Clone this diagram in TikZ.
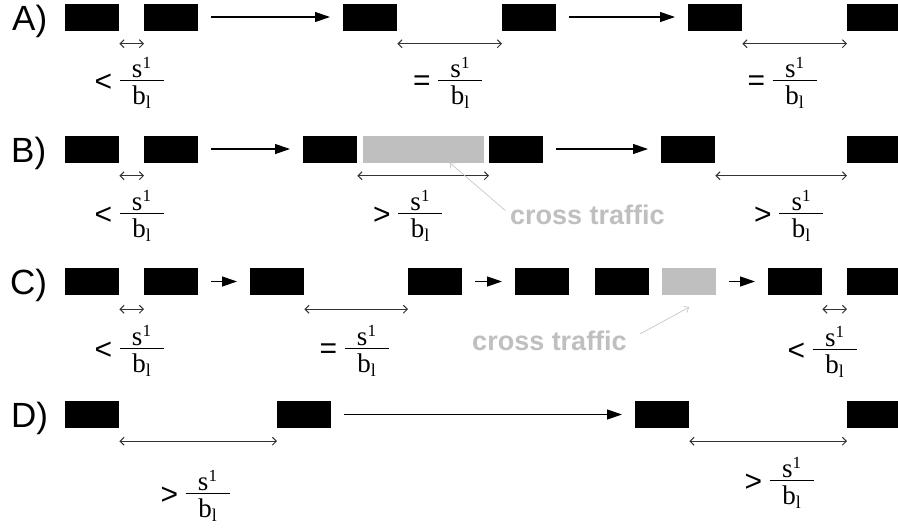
\documentclass[tikz,border=0pt]{standalone}
\usepackage{fontspec}
\setmainfont{Liberation Serif}
\newfontfamily\lsans{Liberation Sans}
\usetikzlibrary{arrows.meta}
\tikzset{
  blk/.style={fill=black, draw=none, inner sep=0pt, minimum width=54pt, minimum height=27pt, anchor=west},
  gblk/.style={fill=black!25, draw=none, inner sep=0pt, minimum height=27pt, anchor=west},
  flow/.style={line width=1.2pt, -{Triangle[length=15pt,width=10pt]}, shorten <=13pt, shorten >=13pt},
  dimarr/.style={line width=1pt, black!80, {Straight Barb[length=4pt,width=8pt]}-{Straight Barb[length=4pt,width=8pt]}},
  fracline/.style={line width=1pt},
  numer/.style={inner sep=0pt, anchor=base, font=\fontsize{27}{30}\selectfont},
  denom/.style={inner sep=0pt, anchor=base, font=\fontsize{27}{30}\selectfont},
  relsym/.style={inner sep=0pt, anchor=center, font=\lsans\fontsize{30}{32}\selectfont},
  rowlab/.style={inner sep=0pt, anchor=base west, font=\lsans\fontsize{35}{40}\selectfont},
  cttext/.style={inner sep=0pt, text=black!25, font=\lsans\bfseries\fontsize{27}{30}\selectfont},
  ctarr/.style={line width=0.7pt, black!22, -{Straight Barb[length=4pt,width=7pt]}}
}
\newcommand\fraclab[4]{%
  \draw[fracline] (#2-22,#3) -- (#2+22,#3);
  \node[numer] (#1n) at (#2,#3-2.5) {s\raisebox{9pt}{\fontsize{17}{20}\selectfont 1}};
  \node[denom] (#1d) at (#2,#3+24) {b\raisebox{-4pt}{\fontsize{18}{20}\selectfont l}};
  \node[relsym] (#1r) at (#2-38,#3+3) {#4};
}
\begin{document}
\begin{tikzpicture}[x=1pt,y=-1pt]
\useasboundingbox (0,0) rectangle (898,531);
% row labels
\node[rowlab] (labA) at (12,30) {A)};
\node[rowlab] (labB) at (11,162) {B)};
\node[rowlab] (labC) at (10,294.5) {C)};
\node[rowlab] (labD) at (11,427.5) {D)};
% ---------- Row A
\node[blk] (a1) at (65,17) {};
\node[blk] (a2) at (144,17) {};
\node[blk] (a3) at (343,17) {};
\node[blk] (a4) at (502,17) {};
\node[blk] (a5) at (688,17) {};
\node[blk, minimum width=51pt] (a6) at (847,17) {};
\draw[flow] (a2) -- (a3);
\draw[flow] (a4) -- (a5);
\draw[dimarr] ([yshift=-13pt]a1.south east) -- ([yshift=-13pt]a2.south west);
\draw[dimarr] ([yshift=-13pt]a3.south east) -- ([yshift=-13pt]a4.south west);
\draw[dimarr] ([yshift=-13pt]a5.south east) -- ([yshift=-13pt]a6.south west);
\fraclab{fa1}{141.5}{80}{<}
\fraclab{fa2}{460}{80}{=}
\fraclab{fa3}{794.5}{80}{=}
% ---------- Row B
\node[blk] (b1) at (65,149) {};
\node[blk] (b2) at (144,149) {};
\node[blk] (b3) at (303,149) {};
\node[gblk, minimum width=121pt] (gB) at (363,149) {};
\node[blk] (b4) at (489,149) {};
\node[blk] (b5) at (661,149) {};
\node[blk, minimum width=51pt] (b6) at (847,149) {};
\draw[flow] (b2) -- (b3);
\draw[flow] (b4) -- (b5);
\draw[dimarr] ([yshift=-13pt]b1.south east) -- ([yshift=-13pt]b2.south west);
\draw[dimarr] ([yshift=-13pt]b3.south east) -- ([yshift=-13pt]b4.south west);
\draw[dimarr] ([yshift=-13pt]b5.south east) -- ([yshift=-13pt]b6.south west);
\fraclab{fb1}{141.5}{213}{<}
\fraclab{fb2}{420}{213}{>}
\fraclab{fb3}{801}{213}{>}
\node[cttext, anchor=west] (ctB) at (510,214.5) {cross traffic};
\draw[ctarr, shorten <=6pt] (ctB.west) -- ([xshift=26pt]gB.south);
% ---------- Row C
\node[blk] (c1) at (65,281.5) {};
\node[blk] (c2) at (144,281.5) {};
\node[blk] (c3) at (250,281.5) {};
\node[blk] (c4) at (408,281.5) {};
\node[blk] (c5) at (515,281.5) {};
\node[blk] (c6) at (595,281.5) {};
\node[gblk, minimum width=54pt] (gC) at (662,281.5) {};
\node[blk] (c7) at (768,281.5) {};
\node[blk, minimum width=51pt] (c8) at (847,281.5) {};
\draw[flow] (c2) -- (c3);
\draw[flow] (c4) -- (c5);
\draw[flow] (gC) -- (c7);
\draw[dimarr] ([yshift=-14pt]c1.south east) -- ([yshift=-14pt]c2.south west);
\draw[dimarr] ([yshift=-14pt]c3.south east) -- ([yshift=-14pt]c4.south west);
\draw[dimarr] ([yshift=-14pt]c7.south east) -- ([yshift=-14pt]c8.south west);
\fraclab{fc1}{141.5}{348}{<}
\fraclab{fc2}{366.5}{348}{=}
\fraclab{fc3}{834.5}{349}{<}
\node[cttext, anchor=east] (ctC) at (627,341) {cross traffic};
\draw[ctarr, shorten <=15pt] (ctC.east) -- ([yshift=-12pt]gC.south);
% ---------- Row D
\node[blk] (d1) at (65,414.5) {};
\node[blk] (d2) at (277,414.5) {};
\node[blk] (d3) at (635,414.5) {};
\node[blk, minimum width=51pt] (d4) at (847,414.5) {};
\draw[flow] (d2) -- (d3);
\draw[dimarr] ([yshift=-13pt]d1.south east) -- ([yshift=-13pt]d2.south west);
\draw[dimarr] ([yshift=-13pt]d3.south east) -- ([yshift=-13pt]d4.south west);
\fraclab{fd1}{207.5}{493}{>}
\fraclab{fd2}{791.5}{480}{>}
\end{tikzpicture}
\end{document}
